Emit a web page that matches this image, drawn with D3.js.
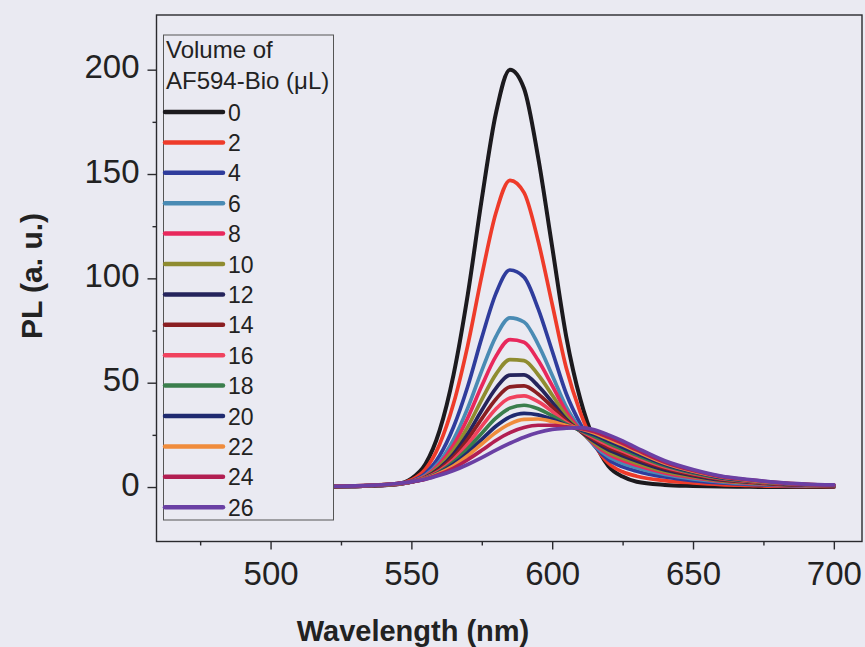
<!DOCTYPE html>
<html><head><meta charset="utf-8">
<script src="https://cdn.jsdelivr.net/npm/d3@7"></script>
<style>
html,body{margin:0;padding:0;background:#eaeaf2;}
svg{display:block;}
</style></head>
<body><svg id="chart" width="865" height="647"></svg>
<script>
// ---- data ----
const wavelengths = [475,500,520,535,545,550,555,560,565,570,575,580,585,590,595,600,605,610,615,620,625,630,640,650,660,670,680,690,700];
const volumes = ["0","2","4","6","8","10","12","14","16","18","20","22","24","26"];
const s0  = [0,0,0.2,0.6,1.5,4,11,27,54,92,138,179,200,191,158,115,72,42,22,10,5,2.5,1,0.5,0.2,0.1,0,0,0];
const s2  = [0,0,0.2,0.6,1.4,3.4,8.6,20.4,40.1,67.8,101.3,131.3,147,141.1,118,87.6,57,35.7,20.5,11.4,7.3,5.2,3.1,2.0,1.2,0.8,0.4,0.3,0.2];
const s4  = [0,0,0.2,0.6,1.3,2.8,6.6,15,28.9,48.2,71.6,92.7,104,100.6,85.5,65.2,44.7,30.3,19.7,13.1,9.7,7.6,4.8,3.1,2.0,1.3,0.8,0.5,0.35];
const s6  = [0,0,0.2,0.6,1.3,2.6,5.6,12.2,22.9,37.8,55.8,72.1,81.1,79.1,68.4,53.6,38.4,27.8,19.8,14.5,11.4,9.2,6.0,3.9,2.5,1.6,1.0,0.6,0.45];
const s8  = [0,0,0.2,0.6,1.3,2.5,5.2,11,20.2,33.1,48.5,62.6,70.6,69.4,60.7,48.6,36.1,27.3,20.5,15.7,12.7,10.4,6.8,4.5,2.8,1.9,1.1,0.7,0.5];
const s10 = [0,0,0.2,0.6,1.4,2.5,4.9,9.9,17.8,28.8,41.9,54,61.1,60.6,53.8,44.1,34,26.8,21.1,16.7,13.8,11.4,7.5,5.0,3.1,2.1,1.3,0.8,0.6];
const s12 = [0,0,0.2,0.6,1.4,2.4,4.6,9,15.9,25.4,36.8,47.3,53.6,53.7,48.5,40.7,32.5,26.7,21.8,17.8,15,12.5,8.2,5.5,3.4,2.3,1.4,0.9,0.6];
const s14 = [0,0,0.2,0.7,1.5,2.4,4.4,8.4,14.5,22.9,32.8,42.1,48,48.5,44.6,38.4,31.7,26.9,22.7,19,16.2,13.5,9.0,5.9,3.7,2.5,1.5,1.0,0.7];
const s16 = [0,0,0.3,0.7,1.5,2.5,4.3,7.8,13.2,20.5,29.2,37.4,42.7,43.7,40.9,36.2,30.9,27,23.4,20,17.2,14.4,9.6,6.4,4.0,2.7,1.7,1.05,0.75];
const s18 = [0,0,0.3,0.7,1.5,2.5,4.1,7.3,12,18.3,25.8,33,37.8,39.2,37.5,34.1,30.1,27.2,24.2,21,18.1,15.3,10.2,6.8,4.3,2.9,1.8,1.1,0.8];
const s20 = [0,0,0.3,0.7,1.6,2.5,4,6.9,11,16.4,22.8,29.1,33.6,35.3,34.6,32.5,29.6,27.5,25,22,19.1,16.2,10.8,7.2,4.5,3.1,1.9,1.2,0.85];
const s22 = [0,0,0.3,0.8,1.6,2.5,4,6.6,10.2,15,20.6,26.1,30.3,32.4,32.6,31.4,29.5,28,25.9,23,20.2,17.1,11.4,7.6,4.8,3.2,2.0,1.3,0.9];
const s24 = [0,0,0.3,0.8,1.7,2.5,3.8,6.1,9.1,13.1,17.6,22.3,26.1,28.5,29.6,29.6,28.8,28.1,26.5,23.8,20.9,17.8,11.9,7.9,5.0,3.4,2.1,1.3,0.95];
const s26 = [0,0,0.3,0.8,1.7,2.5,3.7,5.6,7.9,10.8,14.1,17.7,21,23.9,26.1,27.6,28.2,28.5,27.4,25,22.1,18.8,12.6,8.4,5.3,3.6,2.2,1.4,1.0];
const seriesValues = [s0,s2,s4,s6,s8,s10,s12,s14,s16,s18,s20,s22,s24,s26];
const colors = ["#1c1a1e","#ee3b2a","#2f3c9c","#4a8bb4","#e8285c","#8f8c30","#25245c","#8a1e22","#f0425e","#3a7e4c","#1f2a70","#f08c3c","#b21e52","#6a40a4"];
const xTicks = [500,550,600,650,700];
const xMinor = [475,525,575,625,675];
const yTicks = [0,50,100,150,200];
const yMinor = [25,75,125,175];

// ---- layout ----
const svg = d3.select("#chart");
const L = 156.5, R = 862, T = 15, B = 541.5;
const x = d3.scaleLinear().domain([459.5, 710]).range([L, R]);
const y = d3.scaleLinear().domain([-26.1, 226.2]).range([B, T]);
const ink = "#2a2a2e";
const font = "'Liberation Sans', Arial, sans-serif";

svg.append("rect").attr("width",865).attr("height",647).attr("fill","#eaeaf2");

// curves
const line = d3.line().x((d,i)=>x(wavelengths[i])).y(d=>y(d)).curve(d3.curveMonotoneX);
svg.append("defs").append("clipPath").attr("id","clip")
  .append("rect").attr("x",L).attr("y",T).attr("width",R-L).attr("height",B-T);
const g = svg.append("g").attr("clip-path","url(#clip)");
seriesValues.forEach((vals,k)=>{
  g.append("path").datum(vals).attr("d",line)
    .attr("fill","none").attr("stroke",colors[k])
    .attr("stroke-width",k===0?4:3.7).attr("stroke-linejoin","round").attr("stroke-linecap","round");
});

// frame
svg.append("rect").attr("x",L).attr("y",T).attr("width",R-L).attr("height",B-T)
  .attr("fill","none").attr("stroke",ink).attr("stroke-width",1.4);

// x axis
const xAxis = svg.append("g").attr("transform",`translate(0,${B})`)
  .call(d3.axisBottom(x).tickValues(xTicks).tickSize(8).tickSizeOuter(0).tickFormat(d3.format("d")));
xAxis.select(".domain").remove();
xAxis.selectAll("line").attr("stroke",ink).attr("stroke-width",1.4);
xAxis.selectAll("text").attr("font-family",font).attr("font-size",33).attr("fill","#222")
  .attr("y",43.5).attr("dy",null);
const xMin = svg.append("g").attr("transform",`translate(0,${B})`)
  .call(d3.axisBottom(x).tickValues(xMinor).tickSize(4).tickSizeOuter(0).tickFormat(""));
xMin.select(".domain").remove();
xMin.selectAll("line").attr("stroke",ink).attr("stroke-width",1.4);

// y axis
const yAxis = svg.append("g").attr("transform",`translate(${L},0)`)
  .call(d3.axisLeft(y).tickValues(yTicks).tickSize(9).tickSizeOuter(0).tickPadding(8).tickFormat(d3.format("d")));
yAxis.select(".domain").remove();
yAxis.selectAll("line").attr("stroke",ink).attr("stroke-width",1.4);
yAxis.selectAll("text").attr("font-family",font).attr("font-size",33).attr("fill","#222")
  .attr("dy","0.25em");
const yMin = svg.append("g").attr("transform",`translate(${L},0)`)
  .call(d3.axisLeft(y).tickValues(yMinor).tickSize(4).tickSizeOuter(0).tickFormat(""));
yMin.select(".domain").remove();
yMin.selectAll("line").attr("stroke",ink).attr("stroke-width",1.4);

// axis titles
svg.append("text").attr("x",413).attr("y",641).attr("text-anchor","middle")
  .attr("font-family",font).attr("font-weight","bold").attr("font-size",29).attr("fill","#222")
  .text("Wavelength (nm)");
svg.append("text").attr("transform","translate(42,276) rotate(-90)").attr("text-anchor","middle")
  .attr("font-family",font).attr("font-weight","bold").attr("font-size",30).attr("fill","#222")
  .text("PL (a. u.)");

// legend
const lg = svg.append("g");
lg.append("rect").attr("x",163.5).attr("y",35).attr("width",170).attr("height",485)
  .attr("fill","#eaeaf2").attr("stroke","#555").attr("stroke-width",1);
lg.append("text").attr("x",166).attr("y",58).attr("font-family",font).attr("font-size",24).attr("fill","#222").text("Volume of");
lg.append("text").attr("x",166).attr("y",89).attr("font-family",font).attr("font-size",24).attr("fill","#222").text("AF594-Bio (μL)");
volumes.forEach((v,k)=>{
  const yy = 112 + k*30.4;
  lg.append("line").attr("x1",165).attr("x2",223).attr("y1",yy).attr("y2",yy)
    .attr("stroke",colors[k]).attr("stroke-width",4.5).attr("stroke-linecap","round");
  lg.append("text").attr("x",228).attr("y",yy+8.5).attr("font-family",font).attr("font-size",23).attr("fill","#222").text(v);
});
</script></body></html>
